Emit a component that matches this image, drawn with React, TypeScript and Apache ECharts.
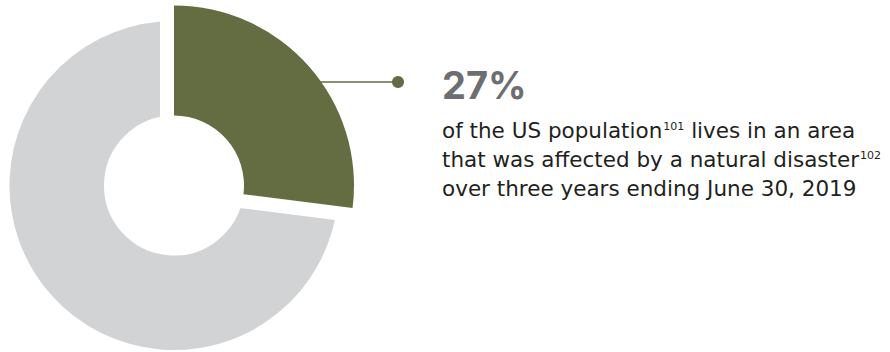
import React, { useEffect, useRef } from "react";
import * as echarts from "echarts";

// ---- data ----
const categories = ["Lives in an area affected by a natural disaster", "Other"];
const shares = [27, 73];
const headline = `${shares[0]}%`;
const bodyLines = [
  ["of the US population", "101", " lives in an area"],
  ["that was affected by a natural disaster", "102", ""],
  ["over three years ending June 30, 2019", "", ""],
];

const GREEN = "#646c41";
const GRAY = "#d1d3d4";

export default function App() {
  const ref = useRef<HTMLDivElement>(null);

  useEffect(() => {
    if (!ref.current) return;
    const chart = echarts.init(ref.current, null, { renderer: "svg" });

    const cx = 174;
    const cy = 185.5;
    const rIn = 70;
    const rGray = 164.5;
    const rGreen = 180;
    const gap = 14;

    const calloutY = 82;
    const dotX = 398;
    const lineStartX = cx + Math.sqrt(rGreen * rGreen - (cy - calloutY) * (cy - calloutY));

    const bodyText = bodyLines
      .map((l) => `{a|${l[0]}}` + (l[1] ? `{s|${l[1]}}` : "") + (l[2] ? `{a|${l[2]}}` : ""))
      .join("\n");

    const option: any = {
      animation: false,
      backgroundColor: "#ffffff",
      series: [
        {
          type: "pie",
          silent: true,
          z: 1,
          center: [cx, cy],
          radius: [rIn - gap, rGray + gap],
          startAngle: 90,
          clockwise: true,
          label: { show: false },
          labelLine: { show: false },
          emphasis: { disabled: true },
          data: [
            { name: categories[0], value: shares[0], itemStyle: { color: "rgba(0,0,0,0)", borderWidth: 0 } },
            { name: categories[1], value: shares[1], itemStyle: { color: GRAY, borderColor: "#ffffff", borderWidth: gap * 2, borderJoin: "miter" } },
          ],
        },
        {
          type: "pie",
          silent: true,
          z: 2,
          center: [cx, cy],
          radius: [rIn, rGreen],
          startAngle: 90,
          clockwise: true,
          label: { show: false },
          labelLine: { show: false },
          emphasis: { disabled: true },
          data: [
            { name: categories[0], value: shares[0], itemStyle: { color: GREEN, borderWidth: 0 } },
            { name: categories[1], value: shares[1], itemStyle: { color: "rgba(0,0,0,0)", borderWidth: 0 } },
          ],
        },
      ],
      graphic: [
        {
          type: "line",
          z: 10,
          shape: { x1: lineStartX - 2, y1: calloutY, x2: dotX, y2: calloutY },
          style: { stroke: GREEN, lineWidth: 1.3 },
        },
        {
          type: "circle",
          z: 10,
          shape: { cx: dotX, cy: calloutY, r: 6 },
          style: { fill: GREEN },
        },
        {
          type: "text",
          z: 10,
          x: 442,
          y: 84.5,
          style: {
            text: headline,
            fill: "#6d6e71",
            font: "bold 38px Inter",
            align: "left",
            verticalAlign: "middle",
          },
        },
        {
          type: "text",
          z: 10,
          x: 442,
          y: 116,
          style: {
            text: bodyText,
            align: "left",
            verticalAlign: "top",
            rich: {
              a: { fontSize: 21.5, fontFamily: "DejaVu Sans", fill: "#231f20", lineHeight: 29 },
              s: { fontSize: 11, fontFamily: "DejaVu Sans", fill: "#231f20", lineHeight: 24, verticalAlign: "top", padding: [5, 0, 0, 1] },
            },
          },
        },
      ],
    };

    chart.setOption(option);
    return () => chart.dispose();
  }, []);

  return (
    <div
      ref={ref}
      style={{ position: "absolute", left: 0, top: 0, width: 890, height: 352 }}
    />
  );
}
